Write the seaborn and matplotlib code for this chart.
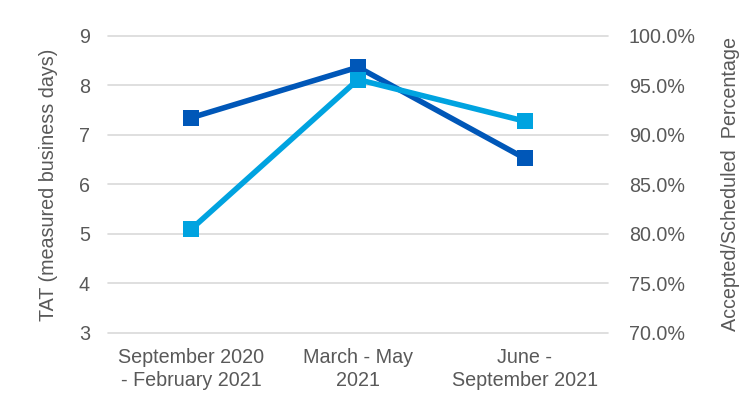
import matplotlib
matplotlib.use("Agg")
import matplotlib.pyplot as plt
import seaborn as sns
import pandas as pd
from matplotlib.ticker import FuncFormatter

categories = ["September 2020\n- February 2021", "March - May\n2021", "June -\nSeptember 2021"]
tat_days = [7.35, 8.37, 6.53]
accepted_pct = [80.5, 95.6, 91.4]
left_ticks = [3, 4, 5, 6, 7, 8, 9]
right_ticks = [70, 75, 80, 85, 90, 95, 100]

sns.set_theme(style="white")
plt.rcParams["font.family"] = ["Liberation Sans", "DejaVu Sans"]

TEXT = "#595959"
DARK = "#0057B8"
LIGHT = "#00A3E0"
FS = 14.2

df = pd.DataFrame({"pos": list(range(len(categories))), "tat": tat_days, "pct": accepted_pct})

fig = plt.figure(figsize=(7.5, 3.93), dpi=100)
ax = fig.add_axes([0.144, 0.1527, 0.6667, 0.7557])
ax2 = ax.twinx()

sns.lineplot(data=df, x="pos", y="tat", ax=ax, color=DARK, linewidth=4.0,
             marker="s", markersize=11.5, markeredgewidth=0, markeredgecolor=DARK)
sns.lineplot(data=df, x="pos", y="pct", ax=ax2, color=LIGHT, linewidth=4.0,
             marker="s", markersize=11.5, markeredgewidth=0, markeredgecolor=LIGHT)

ax.set_xlim(-0.5, 2.5)
ax.set_ylim(3, 9)
ax2.set_ylim(70, 100)
ax.set_yticks(left_ticks)
ax2.set_yticks(right_ticks)
ax2.yaxis.set_major_formatter(FuncFormatter(lambda v, p: f"{v:.1f}%"))
ax.set_xticks(df["pos"])
ax.set_xticklabels(categories, linespacing=1.25)

ax.grid(axis="y", color="#D9D9D9", linewidth=1.2)
ax.set_axisbelow(True)
for gl in ax.get_ygridlines():
    gl.set_clip_on(False)
ax2.grid(False)
for a in (ax, ax2):
    for s in a.spines.values():
        s.set_visible(False)
    a.tick_params(axis="both", length=0, colors=TEXT, labelsize=FS)

ax.tick_params(axis="y", pad=13)
ax2.tick_params(axis="y", pad=15)
ax.tick_params(axis="x", pad=11)

ax.set_xlabel("")
ax.set_ylabel("TAT (measured business days)", color=TEXT, fontsize=FS, labelpad=15)
ax2.set_ylabel("Accepted/Scheduled  Percentage", color=TEXT, fontsize=FS, labelpad=18)

fig.savefig("out.png", dpi=100)
